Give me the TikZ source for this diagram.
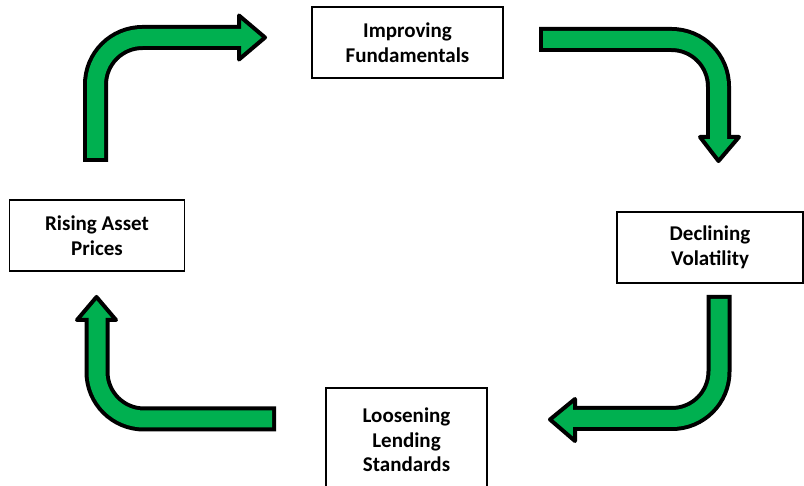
\documentclass[tikz,border=0pt]{standalone}
\usepackage{fontspec}
\setmainfont{Carlito}
\definecolor{arrowgreen}{HTML}{00B050}
\begin{document}
\begin{tikzpicture}[x=1pt,y=-1pt,
  box/.style={draw=black, line width=1.3pt, fill=white, inner sep=0pt, align=center,
    font=\fontsize{21}{24.5}\selectfont\bfseries},
  shaftout/.style={draw=black, line width=25pt, rounded corners=47pt},
  shaftin/.style={draw=arrowgreen, line width=17pt, rounded corners=47pt, shorten <=4pt},
  headtip/.style={fill=arrowgreen, draw=black, line width=4pt, line join=round}]
\useasboundingbox (0,0) rectangle (804,486);
\clip (0,0) rectangle (804,486);

% boxes
\node[box, minimum width=191pt, minimum height=71pt] (imp) at (407.5,42.5) {Improving\\Fundamentals};
\node[box, minimum width=186pt, minimum height=71pt] (dec) at (710,247.5) {Declining\\Volatility};
\node[box, minimum width=161pt, minimum height=104pt] (loo) at (406.5,440) {Loosening\\Lending\\Standards};
\node[box, minimum width=175pt, minimum height=71pt] (ris) at (97,235.5) {Rising Asset\\Prices};

% arrow 1: Rising -> Improving
\coordinate (a1t) at (95.5,162);
\coordinate (a1c) at (95.5,37.5);
\coordinate (a1e) at (242,37.5);
\coordinate (h1a) at (239,15.5);
\coordinate (h1b) at (265,37.5);
\coordinate (h1c) at (239,59.5);
\draw[shaftout] (a1t) -- (a1c) -- (a1e);
\draw[headtip] (h1a) -- (h1b) -- (h1c) -- cycle;
\draw[shaftin] (a1t) -- (a1c) -- (a1e);

% arrow 2: Improving -> Declining
\coordinate (a2t) at (539,39.5);
\coordinate (a2c) at (718.5,39.5);
\coordinate (a2e) at (718.5,140);
\coordinate (h2a) at (700,137);
\coordinate (h2b) at (718.5,161);
\coordinate (h2c) at (739,137);
\draw[shaftout] (a2t) -- (a2c) -- (a2e);
\draw[headtip] (h2a) -- (h2b) -- (h2c) -- cycle;
\draw[shaftin] (a2t) -- (a2c) -- (a2e);

% arrow 3: Declining -> Loosening
\coordinate (a3t) at (719,295);
\coordinate (a3c) at (719,418.5);
\coordinate (a3e) at (572,418.5);
\coordinate (h3a) at (575,399);
\coordinate (h3b) at (550,419.5);
\coordinate (h3c) at (575,441);
\draw[shaftout] (a3t) -- (a3c) -- (a3e);
\draw[headtip] (h3a) -- (h3b) -- (h3c) -- cycle;
\draw[shaftin] (a3t) -- (a3c) -- (a3e);

% arrow 4: Loosening -> Rising
\coordinate (a4t) at (276,419);
\coordinate (a4c) at (97,419);
\coordinate (a4e) at (97,317);
\coordinate (h4a) at (77,320);
\coordinate (h4b) at (96.5,297);
\coordinate (h4c) at (116,320);
\draw[shaftout] (a4t) -- (a4c) -- (a4e);
\draw[headtip] (h4a) -- (h4b) -- (h4c) -- cycle;
\draw[shaftin] (a4t) -- (a4c) -- (a4e);
\end{tikzpicture}
\end{document}
